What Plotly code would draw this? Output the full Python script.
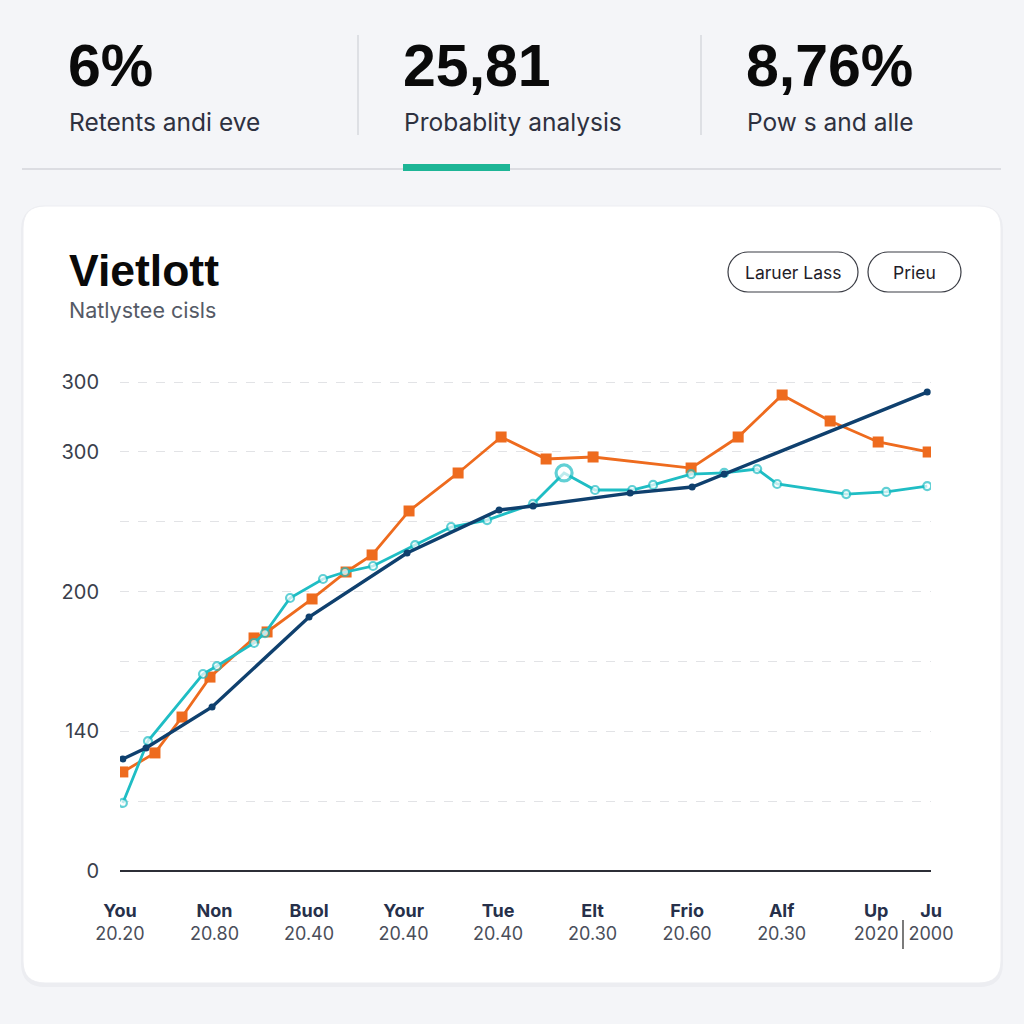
import plotly.graph_objects as go

W = H = 1024


def fx(p):
    return p / W


def fy(p):
    return 1 - p / H


# ---------------- data ----------------
kpi_values = ["6%", "25,81", "8,76%"]
kpi_labels = ["Retents andi eve", "Probablity analysis", "Pow s and alle"]
buttons = ["Laruer Lass", "Prieu"]
title = "Vietlott"
subtitle = "Natlystee cisls"

x_tick_vals = [0, 1, 2, 3, 4, 5, 6, 7, 8, 8.58]
x_tick_top = ["You", "Non", "Buol", "Your", "Tue", "Elt", "Frio", "Alf", "Up", "Ju"]
x_tick_bottom = ["20.20", "20.80", "20.40", "20.40", "20.40", "20.30", "20.60", "20.30", "2020", "2000"]

y_tick_vals = [0, 50, 100, 150, 200, 250, 300, 350]
y_tick_text = ["0", "", "140", "", "200", "", "300", "300"]

orange_x = [0.03, 0.37, 0.656, 0.952, 1.418, 1.556, 2.032, 2.392, 2.667, 3.058, 3.577, 4.032,
            4.508, 5.005, 6.042, 6.54, 7.005, 7.513, 8.021, 8.55]
orange_y = [70.9, 84.5, 110.2, 138.8, 166.8, 171.1, 194.7, 214.0, 226.2, 257.7, 284.9, 310.6,
            294.9, 296.3, 288.4, 310.6, 340.7, 322.1, 307.1, 299.9]

teal_x = [0.03, 0.296, 0.878, 1.026, 1.418, 1.534, 1.799, 2.148, 2.381, 2.677, 3.122, 3.503,
          3.884, 4.37, 4.698, 5.026, 5.418, 5.64, 6.042, 6.392, 6.741, 6.952, 7.683, 8.106, 8.54]
teal_y = [48.7, 93.0, 141.0, 146.7, 163.2, 170.3, 195.4, 209.0, 214.0, 218.3, 233.3, 246.2,
          251.2, 262.7, 284.9, 272.7, 272.7, 276.3, 284.1, 284.9, 287.7, 277.0, 269.8, 271.3, 275.5]
teal_highlight = 14  # index of the emphasised point

navy_x = [0.03, 0.275, 0.974, 2.0, 3.037, 4.011, 4.37, 5.397, 6.053, 6.392, 8.54]
navy_y = [80.2, 88.0, 117.4, 181.8, 227.6, 258.4, 261.2, 270.5, 274.8, 284.1, 342.8]

ORANGE = "#EE6B1E"
TEAL = "#1FBDC4"
NAVY = "#0F406E"

fig = go.Figure()

fig.add_trace(go.Scatter(
    x=orange_x, y=orange_y, mode="lines+markers",
    line=dict(color=ORANGE, width=2.8),
    marker=dict(symbol="square", size=11, color=ORANGE),
    hoverinfo="skip", showlegend=False))

teal_sizes = [8] * len(teal_x)
teal_sizes[teal_highlight] = 16
teal_widths = [2.2] * len(teal_x)
teal_widths[teal_highlight] = 3.2
fig.add_trace(go.Scatter(
    x=teal_x, y=teal_y, mode="lines+markers",
    line=dict(color=TEAL, width=2.8),
    marker=dict(symbol="circle", size=teal_sizes, color="white",
                line=dict(color=TEAL, width=teal_widths)),
    hoverinfo="skip", showlegend=False))

fig.add_trace(go.Scatter(
    x=navy_x, y=navy_y, mode="lines+markers",
    line=dict(color=NAVY, width=3.4),
    marker=dict(symbol="circle", size=7, color=NAVY),
    hoverinfo="skip", showlegend=False))


# ---------------- decorations ----------------
def _path(pts):
    s = ""
    for p in pts:
        cmd = p[0]
        coords = p[1:]
        parts = []
        for i in range(0, len(coords), 2):
            parts.append(f"{fx(coords[i]):.5f},{fy(coords[i + 1]):.5f}")
        s += cmd + " " + " ".join(parts) + " "
    return s + "Z"


def rrect(x0, y0, x1, y1, r):
    return _path([
        ("M", x0 + r, y0), ("L", x1 - r, y0), ("Q", x1, y0, x1, y0 + r),
        ("L", x1, y1 - r), ("Q", x1, y1, x1 - r, y1), ("L", x0 + r, y1),
        ("Q", x0, y1, x0, y1 - r), ("L", x0, y0 + r), ("Q", x0, y0, x0 + r, y0),
    ])


def pill(x0, y0, x1, y1):
    r = (y1 - y0) / 2
    k = 0.5523 * r
    return _path([
        ("M", x0 + r, y0), ("L", x1 - r, y0),
        ("C", x1 - r + k, y0, x1, y0 + r - k, x1, y0 + r),
        ("C", x1, y0 + r + k, x1 - r + k, y1, x1 - r, y1),
        ("L", x0 + r, y1),
        ("C", x0 + r - k, y1, x0, y0 + r + k, x0, y0 + r),
        ("C", x0, y0 + r - k, x0 + r - k, y0, x0 + r, y0),
    ])


shapes = []
# card shadow + card
shapes.append(dict(type="path", xref="paper", yref="paper", path=rrect(21, 206, 1003, 987, 24),
                   fillcolor="rgba(20,30,60,0.035)", line=dict(width=0), layer="below"))
shapes.append(dict(type="path", xref="paper", yref="paper", path=rrect(23, 206, 1001, 983, 22),
                   fillcolor="white", line=dict(color="#ECEDF1", width=1), layer="below"))
# KPI separators
for sx in [358, 701]:
    shapes.append(dict(type="line", xref="paper", yref="paper", x0=fx(sx), x1=fx(sx),
                       y0=fy(35), y1=fy(135), line=dict(color="#CFD2D8", width=1.2)))
# tab underline
shapes.append(dict(type="line", xref="paper", yref="paper", x0=fx(22), x1=fx(1001),
                   y0=fy(169), y1=fy(169), line=dict(color="#DCDDE2", width=2)))
shapes.append(dict(type="rect", xref="paper", yref="paper", x0=fx(403), x1=fx(510),
                   y0=fy(171), y1=fy(164), fillcolor="#1DB596", line=dict(width=0)))
# pills
pill_boxes = [(728, 252, 858, 292), (868, 252, 961, 292)]
for b in pill_boxes:
    shapes.append(dict(type="path", xref="paper", yref="paper", path=pill(*b),
                       fillcolor="white", line=dict(color="#3A3C44", width=1.2)))
# small separator between last tick labels
shapes.append(dict(type="line", xref="paper", yref="paper", x0=fx(903), x1=fx(903),
                   y0=fy(920), y1=fy(949), line=dict(color="#222", width=1.2)))

annotations = []
kpi_x = [68, 403, 746]
for xv, val, lab in zip(kpi_x, kpi_values, kpi_labels):
    annotations.append(dict(x=fx(xv - 2), y=fy(66), xref="paper", yref="paper", text=f"<b>{val}</b>",
                            showarrow=False, xanchor="left", yanchor="middle",
                            font=dict(family="Liberation Sans, Arial", size=59, color="#0A0A0A")))
    annotations.append(dict(x=fx(xv - 1), y=fy(122), xref="paper", yref="paper", text=lab,
                            showarrow=False, xanchor="left", yanchor="middle",
                            font=dict(family="Inter, Lato, sans-serif", size=24.5, color="#2E3140")))

annotations.append(dict(x=fx(67), y=fy(270), xref="paper", yref="paper", text=f"<b>{title}</b>",
                        showarrow=False, xanchor="left", yanchor="middle",
                        font=dict(family="Liberation Sans, Arial", size=44.5, color="#0A0A0A")))
annotations.append(dict(x=fx(67), y=fy(310), xref="paper", yref="paper", text=subtitle,
                        showarrow=False, xanchor="left", yanchor="middle",
                        font=dict(family="Inter, Lato, sans-serif", size=21.5, color="#555A66")))
for (x0, y0, x1, y1), txt in zip(pill_boxes, buttons):
    annotations.append(dict(x=fx((x0 + x1) / 2), y=fy((y0 + y1) / 2), xref="paper", yref="paper",
                            text=txt, showarrow=False, xanchor="center", yanchor="middle",
                            font=dict(family="Inter, Lato, sans-serif", size=17.5, color="#1E2029")))

x_tick_text = [f"<b>{t}</b><br><span style='color:#4A4E5A'>{b}</span>"
               for t, b in zip(x_tick_top, x_tick_bottom)]

fig.update_layout(
    width=W, height=H,
    autosize=False,
    margin=dict(l=0, r=0, t=0, b=0, pad=0, autoexpand=False),
    paper_bgcolor="#F4F5F8",
    plot_bgcolor="rgba(0,0,0,0)",
    shapes=shapes,
    annotations=annotations,
    xaxis=dict(domain=[fx(120), fx(931)], range=[0, 8.58], tickmode="array",
               tickvals=x_tick_vals, ticktext=x_tick_text, showgrid=False, zeroline=False,
               showline=False, ticks="", ticklabelstandoff=27, automargin=False,
               tickfont=dict(family="Inter, Lato, sans-serif", size=18, color="#26304A")),
    yaxis=dict(domain=[fy(871), fy(380.6)], range=[0, 351], tickmode="array",
               tickvals=y_tick_vals, ticktext=y_tick_text, showgrid=True,
               gridcolor="#E2E3E6", griddash="dash", gridwidth=1,
               zeroline=True, zerolinecolor="#2C2E36", zerolinewidth=2,
               showline=False, ticks="", ticklabelstandoff=20, automargin=False,
               tickfont=dict(family="Inter, Lato, sans-serif", size=20, color="#3A3F4C")),
)

fig.write_html("out.html", config={"displayModeBar": False, "responsive": False},
               post_script="document.body.style.margin='0';document.body.style.overflow='hidden';")
